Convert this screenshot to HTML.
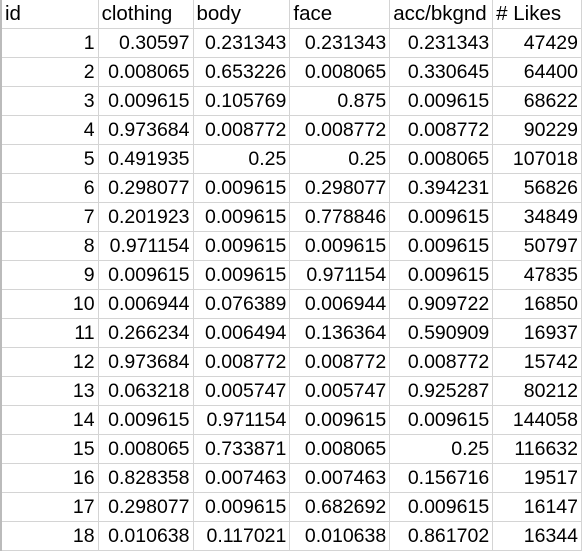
<!DOCTYPE html>
<html><head><meta charset="utf-8"><style>
body{margin:0;background:#fff;width:582px;height:549px;overflow:hidden;font-family:"Liberation Sans",sans-serif;}
table{border-collapse:collapse;table-layout:fixed;position:absolute;left:0;top:0;}
td{height:28px;padding:0 3px;font-size:19.5px;color:#000;border-right:1px solid #d4d4d4;border-bottom:1px solid #d4d4d4;text-align:right;white-space:nowrap;overflow:hidden;line-height:28px;}
tr.h td{text-align:left;font-size:20.5px;}
td:first-child{border-left:2px solid #bbb;}
</style></head><body>
<table>
<colgroup><col style="width:98px"><col style="width:95px"><col style="width:97px"><col style="width:100px"><col style="width:103px"><col style="width:89px"></colgroup>
<tbody id="tb"></tbody></table>
<script>
const headers=["id","clothing","body","face","acc/bkgnd","# Likes"];
const clothing=["0.30597","0.008065","0.009615","0.973684","0.491935","0.298077","0.201923","0.971154","0.009615","0.006944","0.266234","0.973684","0.063218","0.009615","0.008065","0.828358","0.298077","0.010638"];
const body=["0.231343","0.653226","0.105769","0.008772","0.25","0.009615","0.009615","0.009615","0.009615","0.076389","0.006494","0.008772","0.005747","0.971154","0.733871","0.007463","0.009615","0.117021"];
const face=["0.231343","0.008065","0.875","0.008772","0.25","0.298077","0.778846","0.009615","0.971154","0.006944","0.136364","0.008772","0.005747","0.009615","0.008065","0.007463","0.682692","0.010638"];
const acc=["0.231343","0.330645","0.009615","0.008772","0.008065","0.394231","0.009615","0.009615","0.009615","0.909722","0.590909","0.008772","0.925287","0.009615","0.25","0.156716","0.009615","0.861702"];
const likes=["47429","64400","68622","90229","107018","56826","34849","50797","47835","16850","16937","15742","80212","144058","116632","19517","16147","16344"];
const tb=document.getElementById('tb');
const hr=document.createElement('tr');hr.className='h';


headers.forEach(h=>{const td=document.createElement('td');td.textContent=h;


hr.appendChild(td);});
tb.appendChild(hr);
for(let i=0;i<likes.length;i++){
 const tr=document.createElement('tr');
 
 
 [String(i+1),clothing[i],body[i],face[i],acc[i],likes[i]].forEach(v=>{
  const td=document.createElement('td');td.textContent=v;
  
  
  tr.appendChild(td);});
 tb.appendChild(tr);
}
</script>
</body></html>
